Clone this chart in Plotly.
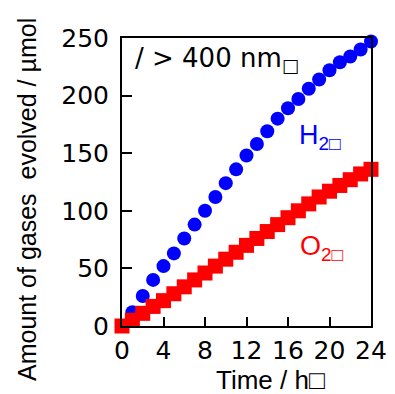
import plotly.graph_objects as go

time_h = list(range(0, 25))
h2_umol = [0, 12, 26, 40, 52, 63, 76, 88, 100, 112, 124, 136, 148, 158, 169,
           180, 189, 197, 206, 214, 222, 229, 234, 240, 247]
o2_umol = [0, 5, 11, 17, 22, 28, 34, 40, 46, 52, 58, 64, 70, 76, 82,
           88, 94, 100, 106, 112, 117, 122, 127, 132, 136]
x_ticks = [0, 4, 8, 12, 16, 20, 24]
y_ticks = [0, 50, 100, 150, 200, 250]

# page body has an 8px margin; work in window pixels and convert
OFF = 8
W, H = 395 - OFF, 394 - OFF
PL, PR, PT, PB = 122, 371, 38, 326  # plot area in window pixels
L, T = PL - OFF, PT - OFF
R, B = W - (PR - OFF), H - (PB - OFF)

def px_x(p):
    return (p - PL) / (PR - PL)

def px_y(p):
    return (PB - p) / (PB - PT)

fig = go.Figure()
fig.add_trace(go.Scatter(x=time_h, y=h2_umol, mode="markers",
                         marker=dict(symbol="circle", size=14, color="#0000ff"),
                         cliponaxis=False, showlegend=False))
fig.add_trace(go.Scatter(x=time_h, y=o2_umol, mode="markers",
                         marker=dict(symbol="square", size=15, color="#ff0000"),
                         cliponaxis=False, showlegend=False))

tickfont = dict(family="DejaVu Sans", size=25, color="black")
fig.update_xaxes(range=[0, 24], tickvals=x_ticks, ticks="inside", ticklen=9, tickwidth=2,
                 tickcolor="black", showline=True, linewidth=2, linecolor="black",
                 mirror=True, showgrid=False, zeroline=False, tickfont=tickfont,
                 ticklabelstandoff=1)
fig.update_yaxes(range=[0, 250], tickvals=y_ticks, ticks="inside", ticklen=10, tickwidth=2,
                 tickcolor="black", showline=True, linewidth=2, linecolor="black",
                 mirror=True, showgrid=False, zeroline=False, tickfont=tickfont,
                 ticklabelstandoff=6)

annots = [
    dict(text="/ > 400 nm<sub>□</sub>", x=px_x(133), y=px_y(60), xanchor="left",
         yanchor="middle", font=dict(family="DejaVu Sans", size=26, color="black")),
    dict(text="H<sub>2□</sub>", x=px_x(297), y=px_y(137), xanchor="left",
         yanchor="middle", font=dict(family="Liberation Sans, Arial", size=27, color="#0000ff")),
    dict(text="O<sub>2□</sub>", x=px_x(298), y=px_y(248), xanchor="left",
         yanchor="middle", font=dict(family="Liberation Sans, Arial", size=27, color="#ff0000")),
    dict(text="Time / h□", x=px_x(270), y=px_y(380), xanchor="center",
         yanchor="middle", font=dict(family="Liberation Sans, Arial", size=26, color="black")),
    dict(text="Amount of gases  evolved / µmol", x=px_x(27), y=px_y(200), xanchor="center",
         yanchor="middle", textangle=-90,
         font=dict(family="Liberation Sans, Arial", size=25, color="black")),
]
for a in annots:
    a.update(xref="paper", yref="paper", showarrow=False)
fig.update_layout(width=W, height=H, margin=dict(l=L, r=R, t=T, b=B, autoexpand=False),
                  paper_bgcolor="white", plot_bgcolor="white", annotations=annots)
fig.write_html("out.html")
